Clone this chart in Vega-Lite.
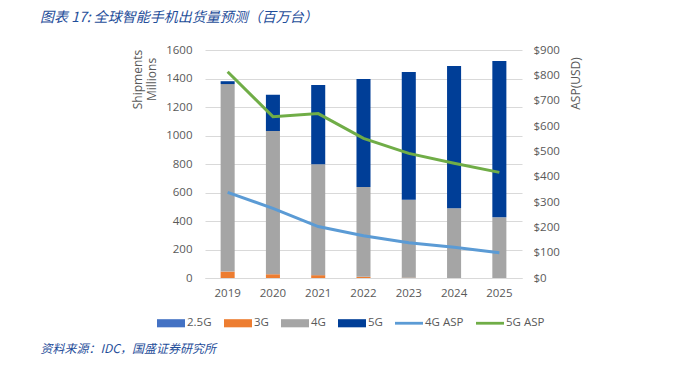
{
  "$schema": "https://vega.github.io/schema/vega-lite/v6.json",
  "width": 317,
  "height": 228,
  "autosize": "none",
  "padding": {"left": 205, "top": 50, "right": 175, "bottom": 87},
  "background": "white",
  "config": {
    "view": {"stroke": null},
    "font": "Open Sans",
    "axis": {"labelFont": "Open Sans", "labelFontSize": 11.5, "labelColor": "#595959", "titleFont": "Open Sans", "titleFontSize": 12, "titleFontWeight": "normal", "titleColor": "#595959", "gridColor": "#d9d9d9", "ticks": false, "domain": false}
  },
  "title": {
    "text": "图表 17: 全球智能手机出货量预测（百万台）",
    "anchor": "start",
    "frame": "group",
    "dx": -165,
    "offset": 19,
    "font": "Noto Sans CJK SC",
    "fontStyle": "italic",
    "fontWeight": "normal",
    "fontSize": 14,
    "color": "#1f4e9a"
  },
  "datasets": {
    "ship": [
      {"year": "2019", "series": "2.5G", "shipments": 0},
      {"year": "2019", "series": "3G", "shipments": 45},
      {"year": "2019", "series": "4G", "shipments": 1316},
      {"year": "2019", "series": "5G", "shipments": 20},
      {"year": "2020", "series": "2.5G", "shipments": 0},
      {"year": "2020", "series": "3G", "shipments": 26},
      {"year": "2020", "series": "4G", "shipments": 1006},
      {"year": "2020", "series": "5G", "shipments": 254},
      {"year": "2021", "series": "2.5G", "shipments": 0},
      {"year": "2021", "series": "3G", "shipments": 20},
      {"year": "2021", "series": "4G", "shipments": 778},
      {"year": "2021", "series": "5G", "shipments": 556},
      {"year": "2022", "series": "2.5G", "shipments": 0},
      {"year": "2022", "series": "3G", "shipments": 8},
      {"year": "2022", "series": "4G", "shipments": 631},
      {"year": "2022", "series": "5G", "shipments": 757},
      {"year": "2023", "series": "2.5G", "shipments": 0},
      {"year": "2023", "series": "3G", "shipments": 2},
      {"year": "2023", "series": "4G", "shipments": 548},
      {"year": "2023", "series": "5G", "shipments": 896},
      {"year": "2024", "series": "2.5G", "shipments": 0},
      {"year": "2024", "series": "3G", "shipments": 0},
      {"year": "2024", "series": "4G", "shipments": 489},
      {"year": "2024", "series": "5G", "shipments": 999},
      {"year": "2025", "series": "2.5G", "shipments": 0},
      {"year": "2025", "series": "3G", "shipments": 0},
      {"year": "2025", "series": "4G", "shipments": 426},
      {"year": "2025", "series": "5G", "shipments": 1097}
    ],
    "asp": [
      {"year": "2019", "series": "4G ASP", "asp": 338},
      {"year": "2020", "series": "4G ASP", "asp": 275},
      {"year": "2021", "series": "4G ASP", "asp": 203},
      {"year": "2022", "series": "4G ASP", "asp": 167},
      {"year": "2023", "series": "4G ASP", "asp": 139},
      {"year": "2024", "series": "4G ASP", "asp": 121},
      {"year": "2025", "series": "4G ASP", "asp": 100},
      {"year": "2019", "series": "5G ASP", "asp": 814},
      {"year": "2020", "series": "5G ASP", "asp": 637},
      {"year": "2021", "series": "5G ASP", "asp": 649},
      {"year": "2022", "series": "5G ASP", "asp": 551},
      {"year": "2023", "series": "5G ASP", "asp": 492},
      {"year": "2024", "series": "5G ASP", "asp": 453},
      {"year": "2025", "series": "5G ASP", "asp": 417}
    ]
  },
  "layer": [
    {
      "data": {"name": "ship"},
      "transform": [{"calculate": "indexof(['2.5G','3G','4G','5G'], datum.series)", "as": "stackOrder"}],
      "mark": {"type": "bar"},
      "encoding": {
        "x": {
          "field": "year", "type": "ordinal",
          "scale": {"paddingInner": 0.69, "paddingOuter": 0.345},
          "axis": {
            "labelAngle": 0, "labelPadding": 9, "domain": true, "domainColor": "#d9d9d9",
            "title": "资料来源：IDC，国盛证券研究所",
            "titleFont": "Noto Sans CJK SC", "titleFontStyle": "italic", "titleFontSize": 12, "titleColor": "#1f4e9a",
            "titleAnchor": "start", "titleAlign": "left", "titleBaseline": "top", "titleX": -165, "titleY": 65
          }
        },
        "y": {
          "field": "shipments", "type": "quantitative", "stack": "zero",
          "scale": {"domain": [0, 1600]},
          "axis": {
            "values": [0, 200, 400, 600, 800, 1000, 1200, 1400, 1600], "format": "d", "labelPadding": 13,
            "title": ["Shipments", "Millions"], "titleAngle": -90, "titleAlign": "center", "titleBaseline": "top",
            "titleX": -73, "titleY": 29, "titleLineHeight": 14
          }
        },
        "color": {
          "field": "series", "type": "nominal",
          "scale": {"domain": ["2.5G", "3G", "4G", "5G", "4G ASP", "5G ASP"], "range": ["#4472c4", "#ed7d31", "#a5a5a5", "#003e97", "#5b9bd5", "#70ad47"]},
          "legend": {
            "orient": "none", "legendX": -48, "legendY": 259, "direction": "horizontal", "title": null,
            "symbolSize": 784, "labelFont": "Open Sans", "labelFontSize": 11.5, "labelColor": "#595959", "labelOffset": 2, "columnPadding": 12,
            "encode": {
              "symbols": {
                "update": {
                  "shape": {"signal": "indexof(['4G ASP','5G ASP'], datum.value) >= 0 ? 'M-1,-0.1H1V0.1H-1Z' : 'M-1,-0.29H1V0.29H-1Z'"},
                  "fill": {"scale": "color", "field": "value"},
                  "stroke": {"value": "transparent"},
                  "strokeWidth": {"value": 0},
                  "opacity": {"value": 1},
                  "fillOpacity": {"value": 1}
                }
              }
            }
          }
        },
        "order": {"field": "stackOrder", "type": "quantitative"}
      }
    },
    {
      "data": {"name": "asp"},
      "mark": {"type": "line", "strokeWidth": 3},
      "encoding": {
        "x": {"field": "year", "type": "ordinal"},
        "y": {
          "field": "asp", "type": "quantitative",
          "scale": {"domain": [0, 900]},
          "axis": {
            "orient": "right", "grid": false, "values": [0, 100, 200, 300, 400, 500, 600, 700, 800, 900],
            "labelExpr": "'$' + datum.value", "labelPadding": 11,
            "title": "ASP(USD)", "titleAngle": -90, "titleAlign": "center", "titleBaseline": "middle", "titleX": 53, "titleY": 33
          }
        },
        "color": {"field": "series", "type": "nominal"}
      }
    }
  ],
  "resolve": {"scale": {"y": "independent"}}
}
